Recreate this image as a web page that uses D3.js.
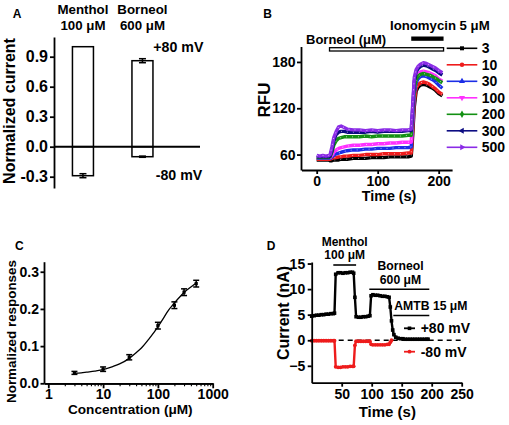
<!DOCTYPE html>
<html><head><meta charset="utf-8">
<script src="https://cdn.jsdelivr.net/npm/d3@7"></script>
<style>
body{margin:0;background:#fff}
svg{display:block;background:#fff}
text{font-family:"Liberation Sans",Arial,sans-serif;font-weight:bold;fill:#000}
</style>
</head><body>
<svg id="c" width="509" height="425"></svg>
<script>
// ---------------- Panel A data ----------------
const catsA = ["Menthol", "Borneol"];
const catLine2A = ["100 μM", "600 μM"];
const posA = [1.00, 0.86];
const posErrA = [0, 0.02];
const negA = [-0.29, -0.10];
const negErrA = [0.02, 0.006];
const ticksA = [-0.3, 0, 0.3, 0.6, 0.9];

// ---------------- Panel B data ----------------
const seriesB = ["3", "10", "30", "100", "200", "300", "500"];
const timeB = [0,5,10,15,20,22,25,28,32,36,40,45,50,60,70,80,90,100,110,120,130,140,150,155,157,160,163,166,170,175,180,185,190,195,200,206];
const rfu3   = [53,53,53,53,53,52,52,53,53,53,54,54,54,55,55,55,56,56,56,57,57,57,57,58,80,122,142,147,150,151,150,148,146,143,139,136];
const rfu10  = [54,54,54,54,54,54,55,56,56,57,57,58,58,59,59,60,60,60,61,61,61,61,62,62,85,128,146,150,153,154,153,151,148,145,141,138];
const rfu30  = [55,55,55,55,55,55,57,59,61,62,63,64,65,66,66,67,67,68,68,68,69,69,69,70,95,138,153,158,161,162,161,159,157,154,150,146];
const rfu100 = [56,56,56,56,56,56,59,63,66,68,69,70,71,72,72,73,73,74,74,75,75,76,76,76,102,145,160,164,167,168,167,166,164,162,158,155];
const rfu200 = [56,56,56,56,56,57,63,72,78,81,82,83,83,83,83,84,83,84,84,84,84,84,85,85,108,145,157,161,164,165,164,163,161,159,156,153];
const rfu300 = [57,57,57,57,57,58,66,78,86,89,90,90,89,89,89,89,90,89,90,90,90,90,91,91,115,155,167,171,174,176,175,173,171,169,166,163];
const rfu500 = [59,58,59,58,59,60,70,82,90,96,97,95,93,92,92,91,92,91,92,92,91,92,92,93,120,160,170,174,177,179,178,176,174,172,169,166];
const borneolWindowB = [21, 208];
const ionoWindowB = [155, 208];
const ticksBY = [60, 120, 180];
const ticksBX = [0, 100, 200];

// ---------------- Panel C data ----------------
const concC = [3, 10, 30, 100, 200, 300, 500];
const respC = [0.028, 0.038, 0.070, 0.155, 0.210, 0.245, 0.268];
const errC  = [0.004, 0.006, 0.007, 0.009, 0.009, 0.009, 0.009];
const fitConcC = [3,4,5,7,10,15,20,30,40,50,70,100,130,150,200,250,300,400,500];
const fitRespC = [0.027,0.028,0.030,0.033,0.037,0.045,0.052,0.067,0.082,0.095,0.121,0.152,0.178,0.193,0.216,0.232,0.244,0.259,0.270];
const ticksCY = [0, 0.1, 0.2, 0.3];
const ticksCX = [1, 10, 100, 1000];

// ---------------- Panel D data ----------------
const timePosD = [0,4,8,12,16,20,24,28,32,36,38,40,44,48,52,56,60,64,68,70,72,74,78,82,86,90,94,97,99,102,106,110,114,118,122,126,129,131,133,135,137,140,144,148,152,156,160,164,168,172,176,180,184,188,192,194];
const curPosD  = [4.7,4.8,4.9,4.9,5.0,5.0,5.1,5.1,5.2,5.2,5.3,12.9,13.2,13.2,13.1,13.2,13.2,13.3,13.3,13.1,8.4,4.6,4.5,4.5,4.6,4.6,4.7,4.8,8.7,8.9,8.8,8.8,8.7,8.6,8.6,8.5,8.4,6.5,3.8,2.0,1.1,0.6,0.4,0.3,0.3,0.2,0.2,0.2,0.2,0.2,0.2,0.2,0.2,0.2,0.2,0.2];
const timeNegD = [0,4,8,12,16,20,24,28,32,36,38,40,44,48,52,56,60,64,68,70,72,74,78,82,86,90,94,97,99,102,106,110,114,118,122,126,129,131,133];
const curNegD  = [-0.1,-0.1,-0.1,-0.1,-0.1,-0.1,-0.1,-0.1,-0.1,-0.1,-0.1,-5.2,-5.3,-5.3,-5.2,-5.2,-5.2,-5.1,-5.1,-5.1,-1.0,-0.2,-0.2,-0.2,-0.2,-0.2,-0.2,-0.2,-0.8,-0.9,-0.9,-0.9,-0.9,-0.9,-0.9,-0.8,-0.8,-0.4,0.0];
const mentholWindowD = [36, 74];
const borneolWindowD = [96, 196];
const amtbWindowD = [136, 196];
const ticksDY = [-5, 0, 5, 10, 15];
const ticksDX = [50, 100, 150, 200, 250];

// =====================================================
const svg = d3.select("#c");
const AX = 1.8;

function styleAxis(g, fs) {
  g.select(".domain").attr("stroke", "#000").attr("stroke-width", AX);
  g.selectAll(".tick line").attr("stroke", "#000").attr("stroke-width", AX);
  g.selectAll(".tick text").attr("font-size", fs).attr("font-family", '"Liberation Sans",Arial,sans-serif').attr("font-weight", "bold").attr("fill", "#000");
}
function txt(x, y, s, fs, anchor) {
  return svg.append("text").attr("x", x).attr("y", y).attr("font-size", fs)
    .attr("text-anchor", anchor || "start").text(s);
}
function vtxt(x, y, s, fs) {
  return svg.append("text").attr("transform", `translate(${x},${y}) rotate(-90)`)
    .attr("font-size", fs).attr("text-anchor", "middle").text(s);
}

// ---------------- Panel A ----------------
{
  const y = d3.scaleLinear().domain([-0.413, 1.097]).range([188, 37]);
  const x = d3.scaleBand().domain(catsA).range([54, 171.4]).paddingInner(0.647).paddingOuter(0.31);
  const bw = x.bandwidth();
  const g = svg.append("g");
  const ax = g.append("g").attr("transform", "translate(54,0)")
    .call(d3.axisLeft(y).tickValues(ticksA).tickFormat(d => d.toFixed(1)).tickSize(4).tickPadding(2).tickSizeOuter(0));
  styleAxis(ax, 16);
  catsA.forEach((c, i) => {
    g.append("rect").attr("x", x(c)).attr("width", bw).attr("y", y(posA[i])).attr("height", y(0) - y(posA[i]))
      .attr("fill", "#fff").attr("stroke", "#000").attr("stroke-width", 1.5);
    g.append("rect").attr("x", x(c)).attr("width", bw).attr("y", y(0)).attr("height", y(negA[i]) - y(0))
      .attr("fill", "#fff").attr("stroke", "#000").attr("stroke-width", 1.5);
    const cx = x(c) + bw / 2;
    [[posA[i], posErrA[i]], [negA[i], negErrA[i]]].forEach(([v, e]) => {
      if (e <= 0) return;
      g.append("line").attr("x1", cx).attr("x2", cx).attr("y1", y(v - e)).attr("y2", y(v + e)).attr("stroke", "#000").attr("stroke-width", 1.5);
      [v - e, v + e].forEach(w => g.append("line").attr("x1", cx - 3.5).attr("x2", cx + 3.5).attr("y1", y(w)).attr("y2", y(w)).attr("stroke", "#000").attr("stroke-width", 1.5));
    });
    txt(cx, 14, c, 13.3, "middle");
    txt(cx, 29.5, catLine2A[i], 13.3, "middle");
  });
  g.append("line").attr("x1", 54).attr("x2", 200).attr("y1", y(0)).attr("y2", y(0)).attr("stroke", "#000").attr("stroke-width", 2);
  txt(153.3, 51.7, "+80 mV", 14.2);
  txt(155.7, 180, "-80 mV", 14.2);
  txt(12.7, 18.3, "A", 12);
  vtxt(14.8, 111, "Normalized current", 16);
}

// ---------------- Panel B ----------------
{
  const x = d3.scaleLinear().domain([-25, 222]).range([301.45, 452.1]);
  const y = d3.scaleLinear().domain([40, 200]).range([170, 46.5]);
  const colors = ["#000000", "#ee1c1c", "#1c2ee6", "#ff30ff", "#139013", "#0c0c82", "#8a2be6"];
  const data = [rfu3, rfu10, rfu30, rfu100, rfu200, rfu300, rfu500];
  const symbols = [
    [d3.symbolSquare, 0], [d3.symbolCircle, 0], [d3.symbolTriangle, 0], [d3.symbolTriangle, 180],
    [d3.symbolDiamond, 0], [d3.symbolTriangle, -90], [d3.symbolTriangle, 90]
  ];
  const g = svg.append("g");
  const line = d3.line().x((d, i) => x(timeB[i])).y(d => y(d)).curve(d3.curveLinear);
  data.forEach((arr, k) => {
    g.append("path").attr("d", line(arr)).attr("fill", "none").attr("stroke", colors[k]).attr("stroke-width", 3.4).attr("stroke-linejoin", "round");
    g.append("path").attr("d", line(arr)).attr("fill", "none").attr("stroke", "#fff").attr("stroke-width", 0.8).attr("stroke-dasharray", "1,5").attr("opacity", 0.8);
  });
  const ay = g.append("g").attr("transform", "translate(301,0)")
    .call(d3.axisLeft(y).tickValues(ticksBY).tickSize(4).tickPadding(1.5).tickSizeOuter(0));
  styleAxis(ay, 14);
  const axx = g.append("g").attr("transform", "translate(0,170)")
    .call(d3.axisBottom(x).tickValues(ticksBX).tickSize(4).tickPadding(2).tickSizeOuter(0));
  styleAxis(axx, 14);
  // stimulus bars
  g.append("rect").attr("x", x(borneolWindowB[0])).attr("width", x(borneolWindowB[1]) - x(borneolWindowB[0]))
    .attr("y", 47.7).attr("height", 3.3).attr("fill", "#fff").attr("stroke", "#000").attr("stroke-width", 1.3);
  g.append("rect").attr("x", x(ionoWindowB[0])).attr("width", x(ionoWindowB[1]) - x(ionoWindowB[0]))
    .attr("y", 36.5).attr("height", 4.3).attr("fill", "#000");
  txt(390, 30, "Ionomycin 5 μM", 13.2);
  txt(306, 43.5, "Borneol (μM)", 13);
  // legend
  seriesB.forEach((s, k) => {
    const ly = 48.3 + k * 16.5;
    g.append("line").attr("x1", 446.7).attr("x2", 477.3).attr("y1", ly).attr("y2", ly).attr("stroke", colors[k]).attr("stroke-width", 1.6);
    g.append("path").attr("d", d3.symbol().type(symbols[k][0]).size(16)())
      .attr("transform", `translate(462,${ly}) rotate(${symbols[k][1]})`).attr("fill", colors[k]);
    txt(481.7, ly + 5, s, 14);
  });
  txt(263.3, 18.3, "B", 12);
  vtxt(270, 100, "RFU", 17);
  txt(389, 201, "Time (s)", 14.3, "middle");
}

// ---------------- Panel C ----------------
{
  const x = d3.scaleLog().domain([0.835, 1000]).range([44, 212.7]);
  const y = d3.scaleLinear().domain([0, 0.327]).range([383.3, 261.7]);
  const g = svg.append("g");
  const ay = g.append("g").attr("transform", "translate(44,0)")
    .call(d3.axisLeft(y).tickValues(ticksCY).tickFormat(d => d.toFixed(1)).tickSize(3.5).tickPadding(1.5).tickSizeOuter(0));
  styleAxis(ay, 14);
  const minor = [];
  [1, 10, 100].forEach(dec => { for (let m = 2; m <= 9; m++) minor.push(dec * m); });
  const axm = g.append("g").attr("transform", "translate(0,383.3)")
    .call(d3.axisBottom(x).tickValues(minor).tickFormat("").tickSize(3).tickSizeOuter(0));
  styleAxis(axm, 14);
  axm.selectAll(".tick line").attr("stroke-width", 1.1);
  const axx = g.append("g").attr("transform", "translate(0,383.3)")
    .call(d3.axisBottom(x).tickValues(ticksCX).tickFormat(d3.format("d")).tickSize(5).tickPadding(0.5).tickSizeOuter(0));
  styleAxis(axx, 14);
  const line = d3.line().x((d, i) => x(fitConcC[i])).y(d => y(d)).curve(d3.curveMonotoneX);
  g.append("path").attr("d", line(fitRespC)).attr("fill", "none").attr("stroke", "#000").attr("stroke-width", 1.3);
  concC.forEach((c, i) => {
    const cx = x(c);
    g.append("line").attr("x1", cx).attr("x2", cx).attr("y1", y(respC[i] - errC[i])).attr("y2", y(respC[i] + errC[i])).attr("stroke", "#000").attr("stroke-width", 1.5);
    [respC[i] - errC[i], respC[i] + errC[i]].forEach(w => g.append("line").attr("x1", cx - 3).attr("x2", cx + 3).attr("y1", y(w)).attr("y2", y(w)).attr("stroke", "#000").attr("stroke-width", 1.5));
    g.append("rect").attr("x", cx - 1.6).attr("y", y(respC[i]) - 1.6).attr("width", 3.2).attr("height", 3.2).attr("fill", "#000");
  });
  txt(15, 250, "C", 12);
  vtxt(16.3, 331.5, "Normalized responses", 13.4);
  txt(130.3, 413.5, "Concentration (μM)", 13.6, "middle");
}

// ---------------- Panel D ----------------
{
  const x = d3.scaleLinear().domain([0, 250]).range([311.7, 461.7]);
  const y = d3.scaleLinear().domain([-8.3, 15.3]).range([382.7, 262]);
  const g = svg.append("g");
  g.append("line").attr("x1", x(0)).attr("x2", x(250)).attr("y1", y(0)).attr("y2", y(0))
    .attr("stroke", "#000").attr("stroke-width", 1.3).attr("stroke-dasharray", "5,4");
  const lineP = d3.line().x((d, i) => x(timePosD[i])).y(d => y(d));
  const lineN = d3.line().x((d, i) => x(timeNegD[i])).y(d => y(d));
  g.append("path").attr("d", lineN(curNegD)).attr("fill", "none").attr("stroke", "#ee1c1c").attr("stroke-width", 2.4);
  curNegD.forEach((v, i) => g.append("circle").attr("cx", x(timeNegD[i])).attr("cy", y(v)).attr("r", 1.9).attr("fill", "#ee1c1c"));
  g.append("path").attr("d", lineP(curPosD)).attr("fill", "none").attr("stroke", "#000").attr("stroke-width", 2.4);
  curPosD.forEach((v, i) => g.append("rect").attr("x", x(timePosD[i]) - 1.8).attr("y", y(v) - 1.8).attr("width", 3.6).attr("height", 3.6).attr("fill", "#000"));
  const ay = g.append("g").attr("transform", "translate(311.7,0)")
    .call(d3.axisLeft(y).tickValues(ticksDY).tickSize(4).tickPadding(2.5).tickSizeOuter(0));
  styleAxis(ay, 14);
  const axx = g.append("g").attr("transform", "translate(0,382.7)")
    .call(d3.axisBottom(x).tickValues(ticksDX).tickSize(4).tickPadding(2.5).tickSizeOuter(0));
  styleAxis(axx, 14);
  // stimulus bars
  [[mentholWindowD, 265], [borneolWindowD, 289.3], [amtbWindowD, 315.5]].forEach(([w, yy]) => {
    g.append("line").attr("x1", x(w[0])).attr("x2", x(w[1])).attr("y1", yy).attr("y2", yy).attr("stroke", "#000").attr("stroke-width", 1.6);
  });
  const mc = (x(mentholWindowD[0]) + x(mentholWindowD[1])) / 2;
  txt(mc, 246, "Menthol", 12, "middle");
  txt(mc, 259.3, "100 μM", 12, "middle");
  txt(400.5, 270, "Borneol", 12.2, "middle");
  txt(400.5, 284, "600 μM", 12.2, "middle");
  txt(394.3, 310, "AMTB 15 μM", 12.2);
  // legend
  g.append("line").attr("x1", 404).attr("x2", 415).attr("y1", 328.3).attr("y2", 328.3).attr("stroke", "#000").attr("stroke-width", 1.8);
  g.append("rect").attr("x", 407.7).attr("y", 326.5).attr("width", 3.6).attr("height", 3.6).attr("fill", "#000");
  g.append("line").attr("x1", 404).attr("x2", 415).attr("y1", 351.7).attr("y2", 351.7).attr("stroke", "#ee1c1c").attr("stroke-width", 1.8);
  g.append("circle").attr("cx", 409.5).attr("cy", 351.7).attr("r", 1.9).attr("fill", "#ee1c1c");
  txt(420.7, 333, "+80 mV", 14);
  txt(420.7, 356.5, "-80 mV", 14);
  txt(266.7, 250, "D", 12);
  vtxt(289, 313, "Current (nA)", 16);
  txt(387.3, 417, "Time (s)", 15, "middle");
}
</script>
</body></html>
